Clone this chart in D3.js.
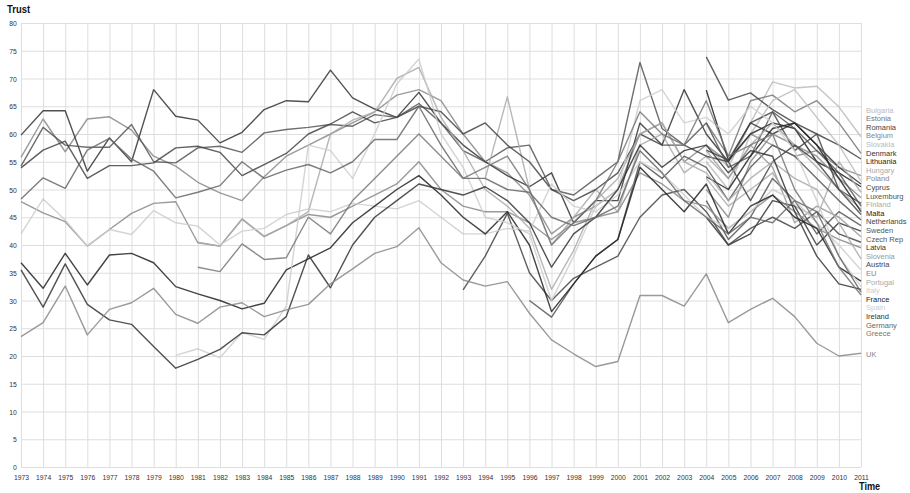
<!DOCTYPE html>
<html><head><meta charset="utf-8">
<script src="https://cdn.jsdelivr.net/npm/d3@7"></script>
<style>body{margin:0;background:#fff}svg{display:block}text{font-family:"Liberation Sans",Arial,sans-serif}</style>
</head><body><svg id="c" width="910" height="493"></svg>
<script>
// ---- data ----
const years = d3.range(1973, 2012);          // x categories (tick labels)
const yTicks = d3.range(0, 81, 5);           // y tick labels
const seriesNames = ["Bulgaria","Estonia","Romania","Belgium","Slovakia","Denmark","Lithuania","Hungary","Poland","Cyprus","Luxemburg","Finland","Malta","Netherlands","Sweden","Czech Rep","Latvia","Slovenia","Austria","EU","Portugal","Italy","France","Spain","Ireland","Germany","Greece","UK"];
const seriesColors = ["#bbb","#777","#444","#888","#bbb","#333","#222","#aaa","#888","#444","#555","#aaa","#222","#444","#555","#555","#333","#999","#444","#888","#aaa","#ccc","#222","#ccc","#333","#666","#777","#888"];
const startYears = [2004,2004,2004,1973,2004,1973,2004,2004,2004,2004,1973,1994,2004,1973,1996,2004,2004,2004,1993,1973,1981,1973,1973,1980,1973,1973,1981,1973];

const Bulgaria  = [58,54,62,69.4,68.3,68.6,64.9,59.5];
const Estonia   = [62,56,66,67,64,66,62,56.5];
const Romania   = [73.9,66.1,67.4,64.4,62,60,58,55.5];
const Belgium   = [55.8,62.7,56.8,62.7,63.1,60.7,56,54.2,51.3,49.4,48,52.3,56, 58,60,62,64,67,68,66,60,55,53, 49,42,45,47,50,60,62,55,58,55, 60,58,56,57,54,52.5];
const Slovakia  = [55,50,60,66,68,63,58,51.5];
const Denmark   = [59.8,64.2,64.2,53.3,59.3,55,68,63.2,62.5,58.4,60.3,64.4,66, 65.8,71.5,66.5,64.5,63,67.5,62,58,55,52.5, 50.5,53,44,48,48,62,58,68,60,55, 62,60,62,58,54,51];
const Lithuania = [67.9,55.3,60,62,61,55,53,50.5];
const Hungary   = [52,47,50,53,47,45,55,49.5];
const Poland    = [50,45,55,60,58,56,52,48.5];
const Cyprus    = [57.1,55.3,62,64,57,60,50,47.5];
const Luxemburg = [54.2,61.2,58,57.6,57.6,61.7,55,54.8,57.5,57.8,56.7,60.2,60.8, 61.2,61.7,61.4,63.5,63,65.5,62,57,55,57.5, 58,50,49,52,55,72.9,61,58,62,54, 56,64,61,57,53,47];
const Finland   = [52,66.7, 50,40,45,50,46,58,60,53,56,52, 58,62,58,54,50,46.5];
const Malta     = [52.3,50,56,61,62,58,52,46];
const Netherlands = [53.9,57.1,58.7,52,54.3,54.3,54.8,57.5,57.8,56.7,52.5,54.5,56.5, 60,61.8,64,62,63,65,64,60,62,58, 55,50,48,50,53,60,58,58,56,55, 48,55,58,55,50,45.5];
const Sweden    = [30,27,33,38,41,55,52,56,54,48, 54,58,56,52,48,44.5];
const CzechRep  = [48,41,45,52,48,42,46,43.5];
const Latvia    = [45,40,42,48,47,40,44,42.5];
const Slovenia  = [57,52,58,54,44,47,45,41.5];
const Austria   = [31.9,38,45.7, 35,30,34,36,38,45,49,50,46,40, 43,45,43,46,42,40.5];
const EU        = [47.8,45.8,44.2,39.8,42.8,45.7,47.5,47.8,40.4,39.8,44.7,41.5,43.5, 45.5,45,47,49,51,55,50,47,46,46, 44,41,44,45,46,53,51,48,47,43, 46,49,46,43,41,39.5];
const Portugal  = [40.5,39.8,44.6,41.6,43.5, 46,60,62.5,64,70,72,63,57,50,47, 43,32,39,48,52,60,62,55,53,48, 52,55,52,50,44,37.5];
const Italy     = [42,48.3,44.5,39.8,42.8,41.9,46.2,44,43.4,40,42.5,43,45.5, 46.5,46,47.5,47,46.5,48,45,42,42,43, 42.5,51,47,46,49,55,53,49,45,43, 46,50,48,44,40,35.5];
const France    = [36.8,32.2,38.5,32.8,38.2,38.5,36.8,32.5,31.2,30,28.5,29.5,35.5, 37.5,39.5,44,47,50,52.5,49,45,42,46, 40,28,33,38,41,54,50,46,51,42, 47,49,45,43,36,33.5];
const Spain     = [20.1,21.3,19.7,24.2,23,29, 58,57,52,60,69,73.5,60,54,45,44, 42,30,38,47,50,66,68,62,63,60, 65,62,57,48,38,32.5];
const Ireland   = [35.5,28.8,36.6,29.3,26.5,25.7,21.7,17.8,19.4,21.2,24.2,23.8,27.1, 38.2,32.3,40,45,48,51,50,49,50.5,48, 44,36,42,45,50,58,54,57,58,53, 57,56,46,38,33,32];
const Germany   = [48.3,52.1,50.2,57.1,59.2,55.5,53.3,48.5,49.5,50.7,55,52,53.5, 54.5,53,55,59,59,65,58,52,52,50, 49.5,45,43.5,45,47,57,53,48,45,42, 45,44,48,46,38,31.5];
const Greece    = [36,35.2,40.2,37.4,37.7, 45,42,48,52,56,60,56,52,54,56, 50,40,44,48,55,64,60,58,66,56, 58,60,50,44,36,31];
const UK        = [23.5,26,32.6,23.8,28.4,29.6,32.2,27.5,25.9,28.8,29.6,27.1,28.3, 29.3,33,35.7,38.5,39.7,43.1,36.8,33.7,32.6,33.4, 27.7,22.9,20.4,18.1,19,30.9,30.9,29,34.8,26, 28.4,30.4,27.1,22.3,20,20.5];

const seriesValues = [Bulgaria,Estonia,Romania,Belgium,Slovakia,Denmark,Lithuania,Hungary,Poland,Cyprus,Luxemburg,Finland,Malta,Netherlands,Sweden,CzechRep,Latvia,Slovenia,Austria,EU,Portugal,Italy,France,Spain,Ireland,Germany,Greece,UK];

// ---- chart ----
const svg = d3.select("#c");
const x = d3.scaleLinear().domain([1973, 2011]).range([21, 861]);
const y = d3.scaleLinear().domain([0, 80]).range([467, 23]);

const ya = svg.append("g").attr("transform", "translate(21,0)")
  .call(d3.axisLeft(y).tickValues(yTicks).tickSize(-(861 - 21)).tickPadding(5).tickFormat(d3.format("d")));
const xa = svg.append("g").attr("transform", "translate(0,467)")
  .call(d3.axisBottom(x).tickValues(years).tickSize(-(467 - 23)).tickPadding(7).tickFormat(d3.format("d")));
[ya, xa].forEach(g => {
  g.select(".domain").remove();
  g.selectAll(".tick line").attr("stroke", "#dedede").attr("stroke-width", 1);
  g.selectAll(".tick text").attr("fill", "#333").style("font-size", "8px")
    .attr("transform", "scale(0.85,1)");
});

const series = seriesNames.map((name, i) => ({
  name, color: seriesColors[i],
  points: seriesValues[i].map((v, j) => ({ year: startYears[i] + j, v }))
}));

const line = d3.line().defined(d => d.v != null).x(d => x(d.year)).y(d => y(d.v));
svg.append("g").selectAll("path").data(series).join("path")
  .attr("d", d => line(d.points))
  .attr("fill", "none").attr("stroke", d => d.color).attr("stroke-opacity", 0.85)
  .attr("stroke-width", 1.4).attr("stroke-linejoin", "round");

const others = series.filter(s => s.name !== "UK")
  .map(s => ({ s, ey: y(s.points[s.points.length - 1].v) }))
  .sort((a, b) => a.ey - b.ey);
const labelStep = 8.6;
const stackTop = d3.mean(others, d => d.ey) - (others.length - 1) / 2 * labelStep;
others.forEach((d, i) => d.ly = stackTop + i * labelStep);
const ukSeries = series.find(s => s.name === "UK");
others.push({ s: ukSeries, ly: y(ukSeries.points[ukSeries.points.length - 1].v) + 1 });

svg.append("g").selectAll("text").data(others).join("text")
  .attr("x", 866).attr("y", d => d.ly)
  .attr("dy", "0.35em").style("font-size", "7.5px")
  .attr("fill", d => d.s.color).text(d => d.s.name);

svg.append("text").attr("transform", "translate(7,13) scale(0.9,1)")
  .style("font-size", "10.5px").style("font-weight", "bold").attr("fill", "#111").text("Trust");
svg.append("text").attr("transform", "translate(859,490) scale(0.87,1)")
  .style("font-size", "10.5px").style("font-weight", "bold").attr("fill", "#111").text("Time");
</script></body></html>
